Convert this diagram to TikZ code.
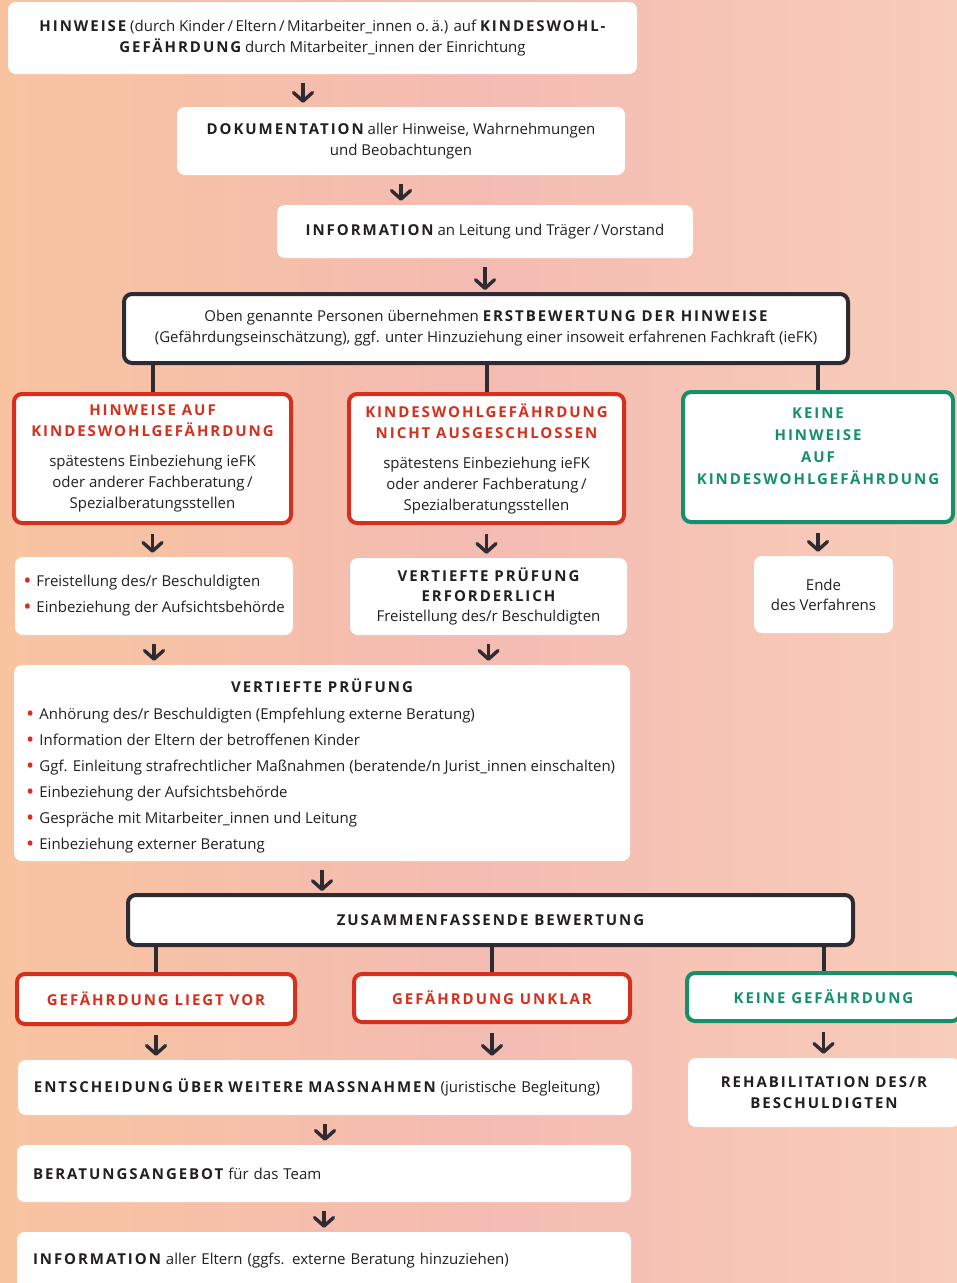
\documentclass[tikz,border=0pt]{standalone}
\usepackage{fontspec}
\setmainfont{Open Sans}
\usetikzlibrary{arrows.meta}
\definecolor{bgL}{HTML}{F8C4A0}
\definecolor{bgM}{HTML}{F4BBB2}
\definecolor{bgR}{HTML}{F8CDB9}
\definecolor{redc}{HTML}{D5301D}
\definecolor{greenc}{HTML}{14916B}
\definecolor{darkc}{HTML}{2E2B33}
\definecolor{txt}{HTML}{231F20}
\newcommand\B[1]{{\bfseries\addfontfeature{LetterSpace=13}#1}}
\newcommand\R[1]{{\color{redc}\B{#1}}}
\newcommand\G[1]{{\color{greenc}\B{#1}}}
\newcommand\bul{{\color{redc}\raisebox{-1.2pt}{\scalebox{1.45}{\textbullet}}}\hspace{5pt}}
\tikzset{
  wbox/.style={fill=white, rounded corners=8pt, inner sep=0pt, text=txt, align=center},
  kbox/.style={wbox, draw=darkc, line width=4pt},
  rbox/.style={wbox, draw=redc, line width=4pt},
  gbox/.style={wbox, draw=greenc, line width=4pt},
  arr/.style={draw=darkc, line width=3.4pt, shorten <=9pt, shorten >=4pt,
    -{Straight Barb[length=8.5pt,width=19pt,line width=3.4pt,round]}},
  conn/.style={draw=darkc, line width=4pt},
  lbl/.style={inner sep=0pt, text=txt}
}
\begin{document}
\begin{tikzpicture}[x=1pt,y=-1pt,font=\fontsize{15}{21}\selectfont]
\useasboundingbox (0,0) rectangle (957,1283);
\shade[left color=bgL,right color=bgR,middle color=bgM] (0,0) rectangle (957,1283);
\coordinate (c1) at (303,0);

\node[wbox, minimum width=629, minimum height=72] (b1) at (322.5,38)
 {\B{HINWEISE} (durch Kinder\,/\,Eltern\,/\,Mitarbeiter\_innen o.\,ä.) auf \B{KINDESWOHL-}\\ \B{GEFÄHRDUNG} durch Mitarbeiter\_innen der Einrichtung};
\node[wbox, minimum width=448, minimum height=68] (b2) at (401,141)
 {\B{DOKUMENTATION} aller Hinweise, Wahrnehmungen\\ und Beobachtungen};
\node[wbox, minimum width=416, minimum height=53] (b3) at (485,231.5)
 {\B{INFORMATION} an Leitung und Träger\,/\,Vorstand};
\node[kbox, minimum width=724, minimum height=69] (b4) at (486,328.5)
 {Oben genannte Personen übernehmen \B{ERSTBEWERTUNG DER HINWEISE}\\ (Gefährdungseinschätzung), ggf. unter Hinzuziehung einer insoweit erfahrenen Fachkraft (ieFK)};

\node[rbox, minimum width=277, minimum height=129] (b5a) at (152.5,458.5)
 {\R{HINWEISE AUF}\\ \R{KINDESWOHLGEFÄHRDUNG}\\[9pt] spätestens Einbeziehung ieFK\\ oder anderer Fachberatung\,/\\ Spezialberatungsstellen};
\node[rbox, minimum width=275, minimum height=129] (b5b) at (486.5,458.5)
 {\R{KINDESWOHLGEFÄHRDUNG}\\ \R{NICHT AUSGESCHLOSSEN}\\[9pt] spätestens Einbeziehung ieFK\\ oder anderer Fachberatung\,/\\ Spezialberatungsstellen};
\node[gbox, minimum width=270, minimum height=130, font=\fontsize{15}{22}\selectfont] (b5c) at (818,457)
 {\G{KEINE}\\ \G{HINWEISE}\\ \G{AUF}\\ \G{KINDESWOHLGEFÄHRDUNG}\\[0pt]};

\node[wbox, minimum width=278, minimum height=78, align=left, font=\fontsize{15}{26}\selectfont] (b6a) at (154,596)
 {\bul Freistellung des/r Beschuldigten\\ \bul Einbeziehung der Aufsichtsbehörde};
\node[wbox, minimum width=277, minimum height=77, font=\fontsize{15}{20}\selectfont] (b6b) at (488.5,596.5)
 {\B{VERTIEFTE PRÜFUNG}\\ \B{ERFORDERLICH}\\ Freistellung des/r Beschuldigten};
\node[wbox, minimum width=139, minimum height=77, font=\fontsize{15}{20}\selectfont] (b6c) at (823.5,594.5)
 {Ende\\ des Verfahrens};

\node[wbox, minimum width=616, minimum height=196] (b7) at (322,763) {};
\node[lbl] (b7t) at (322,686) {\B{VERTIEFTE PRÜFUNG}};
\node[lbl, anchor=west, align=left, font=\fontsize{15}{26}\selectfont] (b7l) at (26,781)
 {\bul Anhörung des/r Beschuldigten (Empfehlung externe Beratung)\\
  \bul Information der Eltern der betroffenen Kinder\\
  \bul Ggf. Einleitung strafrechtlicher Maßnahmen (beratende/n Jurist\_innen einschalten)\\
  \bul Einbeziehung der Aufsichtsbehörde\\
  \bul Gespräche mit Mitarbeiter\_innen und Leitung\\
  \bul Einbeziehung externer Beratung};

\node[kbox, minimum width=725, minimum height=50] (b8) at (490.5,920)
 {\B{ZUSAMMENFASSENDE BEWERTUNG}};
\node[rbox, minimum width=278, minimum height=50] (b9a) at (156,999) {\R{GEFÄHRDUNG LIEGT VOR}};
\node[rbox, minimum width=276, minimum height=48] (b9b) at (492,998) {\R{GEFÄHRDUNG UNKLAR}};
\node[gbox, minimum width=273, minimum height=48] (b9c) at (823.5,997) {\G{KEINE GEFÄHRDUNG}};

\node[wbox, minimum width=614, minimum height=55, text width=582, align=left] (b10a) at (325,1087.5)
 {\B{ENTSCHEIDUNG ÜBER WEITERE MASSNAHMEN} (juristische Begleitung)};
\node[wbox, minimum width=272, minimum height=69] (b10b) at (824,1092.5)
 {\B{REHABILITATION DES/R}\\ \B{BESCHULDIGTEN}};
\node[wbox, minimum width=614, minimum height=57, text width=582, align=left] (b11) at (324,1173.5)
 {\B{BERATUNGSANGEBOT} für das Team};
\node[wbox, minimum width=614, minimum height=58, text width=582, align=left] (b12) at (324,1261)
 {\B{INFORMATION} aller Eltern (ggfs. externe Beratung hinzuziehen)};

% arrows
\draw[arr] (b1.south -| c1) -- (b2.north -| c1);
\draw[arr] (b2.south) -- (b3.north -| b2.south);
\draw[arr, shorten >=2pt] (b3.south) -- (b4.north -| b3.south);
\draw[conn] (b4.south -| b5a.north) -- (b5a.north);
\draw[conn] (b4.south -| b5b.north) -- (b5b.north);
\draw[conn] (b4.south -| b5c.north) -- (b5c.north);
\draw[arr] (b5a.south) -- (b6a.north -| b5a.south);
\draw[arr] (b5b.south) -- (b6b.north -| b5b.south);
\draw[arr] (b5c.south) -- (b6c.north -| b5c.south);
\draw[arr] (b6a.south) -- (b7.north -| b6a.south);
\draw[arr] (b6b.south) -- (b7.north -| b6b.south);
\draw[arr, shorten >=2pt] (b7.south) -- (b8.north -| b7.south);
\draw[conn] (b8.south -| b9a.north) -- (b9a.north);
\draw[conn] (b8.south -| b9b.north) -- (b9b.north);
\draw[conn] (b8.south -| b9c.north) -- (b9c.north);
\draw[arr] (b9a.south) -- (b10a.north -| b9a.south);
\draw[arr] (b9b.south) -- (b10a.north -| b9b.south);
\draw[arr] (b9c.south) -- (b10b.north -| b9c.south);
\draw[arr] (b10a.south) -- (b11.north -| b10a.south);
\draw[arr] (b11.south) -- (b12.north -| b11.south);
\end{tikzpicture}
\end{document}
